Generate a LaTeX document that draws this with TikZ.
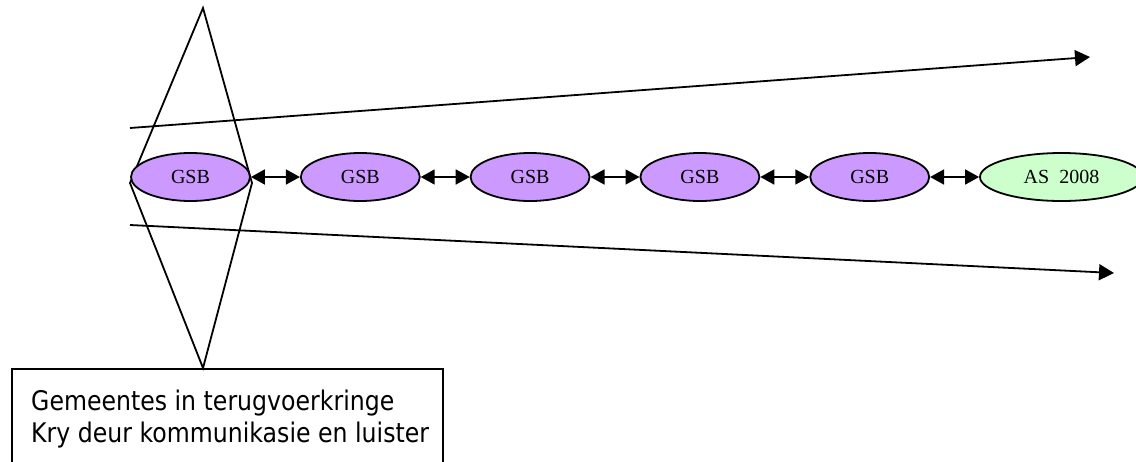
\documentclass[tikz,border=0pt]{standalone}
\usepackage{fontspec}
\setmainfont{Liberation Serif}
\newfontfamily\notefont[FakeStretch=0.875]{DejaVu Sans}
\usetikzlibrary{arrows.meta,shapes.geometric,positioning}
\definecolor{gsbfill}{HTML}{CC99FF}
\definecolor{asfill}{HTML}{CCFFCC}
\tikzset{
  gsb/.style={ellipse,draw,line width=1.8pt,fill=gsbfill,minimum width=119pt,minimum height=48pt,inner sep=0pt,font=\fontsize{20}{20}\selectfont},
  asnode/.style={gsb,fill=asfill,minimum width=163pt},
  link/.style={line width=1.8pt,{Triangle[length=14pt,width=15pt]}-{Triangle[length=14pt,width=15pt]}},
  ray/.style={line width=1.8pt,-{Triangle[length=15pt,width=16pt]}}
}
\begin{document}
\begin{tikzpicture}[x=1pt,y=-1pt,node distance=49pt]
\useasboundingbox (0,0) rectangle (1136,461);
% diamond
\coordinate (dtop) at (203,8);
\coordinate (dleft) at (130,183);
\coordinate (dright) at (252,183);
\coordinate (dbot) at (203,368);
\draw[line width=1.8pt] (dtop)--(dleft)--(dbot)--(dright)--cycle;
% chain
\node[gsb] (g1) at (190.5,177) {GSB};
\node[gsb,right=of g1] (g2) {GSB};
\node[gsb,right=of g2] (g3) {GSB};
\node[gsb,right=of g3] (g4) {GSB};
\node[gsb,right=of g4] (g5) {GSB};
\node[asnode,right=of g5] (as) {AS\ \ 2008};
\foreach \a/\b in {g1/g2,g2/g3,g3/g4,g4/g5,g5/as}
  \draw[link] (\a) -- (\b);
% rays
\coordinate (rt1) at (130,128);
\coordinate (rt2) at (1090,57);
\coordinate (rb1) at (130,225);
\coordinate (rb2) at (1114,273);
\draw[ray] (rt1) -- (rt2); %upper
\draw[ray] (rb1) -- (rb2); %lower
% note box
\draw[line width=1.8pt] (12,369) rectangle (443,480);
\node[anchor=base west,inner sep=0pt,align=left,font=\notefont\fontsize{27}{32}\selectfont] (note) at (31,442) {Gemeentes in terugvoerkringe\\Kry deur kommunikasie en luister};
\end{tikzpicture}
\end{document}
